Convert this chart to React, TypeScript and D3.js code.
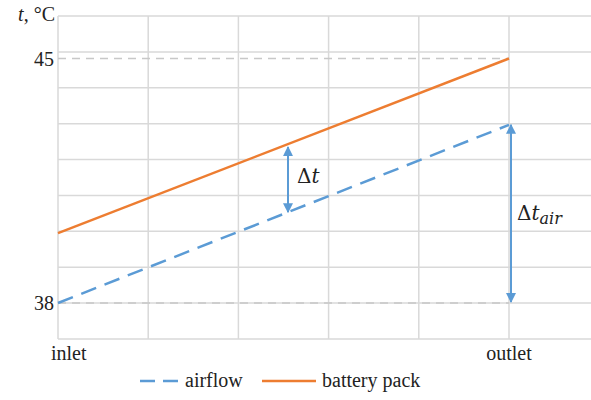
import * as d3 from "d3";
import { useRef, useEffect } from "react";

// data: position along the pack (0 = inlet, 1 = outlet) and temperature
const positions = [0, 1];
const airflow = [38, 43.1];
const batteryPack = [40, 45];
const yTicks = [38, 45];
const xLabels = ["inlet", "outlet"];
const legendNames = ["airflow", "battery pack"];
const deltaAt = 0.51; // where the Δt arrow sits

const width = 591;
const height = 400;
const plotLeft = 58;
const plotTop = 16;
const plotBottom = 339;

const blue = "#5B9BD5";
const orange = "#ED7D31";
const grid = "#d9d9d9";
const serif = "Liberation Serif";
const math = "DejaVu Serif";

const App = () => {
  const ref = useRef<SVGSVGElement>(null);

  useEffect(() => {
    if (!ref.current) return;
    const svg = d3.select(ref.current);
    svg.selectAll("*").remove();

    const x = d3.scaleLinear().domain([0, 1]).range([plotLeft, 509]);
    const y = d3.scaleLinear().domain([38, 45]).range([303, 58.5]);

    // arrow markers
    const defs = svg.append("defs");
    ["start", "end"].forEach((k) => {
      defs.append("marker")
        .attr("id", "arr-" + k)
        .attr("viewBox", "0 0 10 10")
        .attr("refX", k === "end" ? 9 : 1)
        .attr("refY", 5)
        .attr("markerWidth", 5)
        .attr("markerHeight", 5)
        .attr("markerUnits", "strokeWidth")
        .attr("orient", "auto")
        .append("path")
        .attr("d", k === "end" ? "M0,0 L10,5 L0,10 Z" : "M10,0 L0,5 L10,10 Z")
        .attr("fill", blue);
    });

    // grid
    const g = svg.append("g");
    const rows = d3.range(10).map((i) => plotTop + (i * (plotBottom - plotTop)) / 9);
    g.selectAll(".h").data(rows).enter().append("line")
      .attr("x1", plotLeft).attr("x2", width)
      .attr("y1", (d) => d).attr("y2", (d) => d)
      .attr("stroke", grid).attr("stroke-width", 1.5);
    g.selectAll(".v").data(d3.range(0, 1.01, 0.2)).enter().append("line")
      .attr("x1", (d) => x(d)).attr("x2", (d) => x(d))
      .attr("y1", plotTop).attr("y2", plotBottom)
      .attr("stroke", grid).attr("stroke-width", 1.5);

    // dashed reference lines at 38 and 45
    g.selectAll(".ref").data(yTicks).enter().append("line")
      .attr("x1", x(0)).attr("x2", x(1))
      .attr("y1", (d) => y(d)).attr("y2", (d) => y(d))
      .attr("stroke", "#c8c8c8").attr("stroke-width", 1.5)
      .attr("stroke-dasharray", "8,6");

    // y tick labels
    svg.selectAll(".yt").data(yTicks).enter().append("text")
      .attr("x", plotLeft - 4).attr("y", (d) => y(d))
      .attr("dy", "0.35em").attr("text-anchor", "end")
      .attr("font-family", serif).attr("font-size", 20).attr("fill", "#222")
      .text((d) => d);

    const yl = svg.append("text")
      .attr("x", 55).attr("y", 21).attr("text-anchor", "end")
      .attr("font-family", serif).attr("font-size", 20).attr("fill", "#222");
    yl.append("tspan").attr("font-style", "italic").text("t");
    yl.append("tspan").text(", °C");

    // x labels
    svg.selectAll(".xt").data(positions).enter().append("text")
      .attr("x", (d) => (d === 0 ? x(d) - 7 : x(d)))
      .attr("y", 360)
      .attr("text-anchor", (d) => (d === 0 ? "start" : "middle"))
      .attr("font-family", serif).attr("font-size", 20).attr("fill", "#222")
      .text((_, i) => xLabels[i]);

    // series
    const line = d3.line<number>().x((_, i) => x(positions[i])).y((d) => y(d));
    svg.append("path").datum(airflow).attr("d", line)
      .attr("fill", "none").attr("stroke", blue).attr("stroke-width", 2.5)
      .attr("stroke-dasharray", "16,9");
    svg.append("path").datum(batteryPack).attr("d", line)
      .attr("fill", "none").attr("stroke", orange).attr("stroke-width", 2.5);

    // Δt arrow between the lines
    const interp = (arr: number[], t: number) => arr[0] + (arr[1] - arr[0]) * t;
    svg.append("line")
      .attr("x1", x(deltaAt)).attr("x2", x(deltaAt))
      .attr("y1", y(interp(batteryPack, deltaAt)) + 3)
      .attr("y2", y(interp(airflow, deltaAt)))
      .attr("stroke", blue).attr("stroke-width", 2)
      .attr("marker-start", "url(#arr-start)").attr("marker-end", "url(#arr-end)");
    const dt = svg.append("text")
      .attr("x", x(deltaAt) + 9).attr("y", 183)
      .attr("font-family", math).attr("font-size", 20).attr("fill", "#222");
    dt.append("tspan").text("Δ");
    dt.append("tspan").attr("font-style", "italic").text("t");

    // Δt_air arrow at outlet
    svg.append("line")
      .attr("x1", x(1) + 2).attr("x2", x(1) + 2)
      .attr("y1", y(airflow[1]))
      .attr("y2", y(38) - 1)
      .attr("stroke", blue).attr("stroke-width", 2)
      .attr("marker-start", "url(#arr-start)").attr("marker-end", "url(#arr-end)");
    const da = svg.append("text")
      .attr("x", x(1) + 8).attr("y", 220)
      .attr("font-family", math).attr("font-size", 20).attr("fill", "#222");
    da.append("tspan").text("Δ");
    da.append("tspan").attr("font-style", "italic").text("t");
    da.append("tspan").attr("font-style", "italic").attr("font-size", 16)
      .attr("dy", 4).text("air");

    // legend
    const lg = svg.append("g").attr("transform", "translate(0,381)");
    lg.append("line").attr("x1", 140).attr("x2", 178).attr("y1", 0).attr("y2", 0)
      .attr("stroke", blue).attr("stroke-width", 2.5).attr("stroke-dasharray", "15,8");
    lg.append("line").attr("x1", 262).attr("x2", 316).attr("y1", 0).attr("y2", 0)
      .attr("stroke", orange).attr("stroke-width", 2.5);
    lg.selectAll("text").data(legendNames).enter().append("text")
      .attr("x", (_, i) => (i === 0 ? 185 : 322)).attr("y", 0).attr("dy", "0.32em")
      .attr("font-family", serif).attr("font-size", 20).attr("fill", "#222")
      .text((d) => d);
  }, []);

  return (
    <svg ref={ref} width={width} height={height}
      style={{ position: "absolute", left: 0, top: 0, background: "#fff" }} />
  );
};

export default App;
